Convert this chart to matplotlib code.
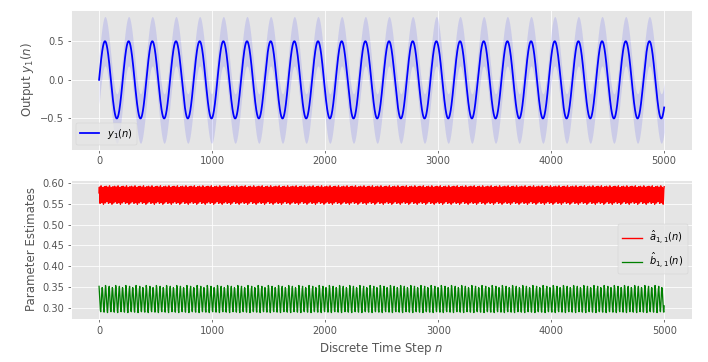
import numpy as np
import matplotlib
matplotlib.use("Agg")
import matplotlib.pyplot as plt

plt.style.use("ggplot")

# time axis
n_steps = 5000
n = np.arange(n_steps + 1)

# output y1(n): -> amplitude 0.5, ~24 cycles over 5000 steps
y1_amplitude = 0.5
y1_omega = 0.03          # rad / step  (period ~210 steps)
y1_band = 0.32           # half width of the shaded band

# parameter estimates: one repeating stretch of values,
# sampled every 3 steps
est_step = 3
a_hat_stretch = [0.576, 0.590, 0.568, 0.551, 0.563, 0.586,
                 0.593, 0.572, 0.553, 0.558, 0.581, 0.589,
                 0.566, 0.549, 0.561, 0.584, 0.591, 0.570,
                 0.552, 0.556, 0.579, 0.592, 0.574, 0.555, 0.560]
b_hat_stretch = [0.352, 0.338, 0.322, 0.306, 0.294, 0.291, 0.303, 0.321, 0.337, 0.349,
                 0.347, 0.333, 0.317, 0.302, 0.292, 0.290, 0.305, 0.323, 0.339, 0.354,
                 0.350, 0.335, 0.319, 0.304, 0.293, 0.289, 0.301, 0.318, 0.334, 0.346]

y1 = y1_amplitude * np.sin(y1_omega * n)

n_est = np.arange(0, n_steps + 1, est_step)
a_hat = np.resize(a_hat_stretch, len(n_est))
b_hat = np.resize(b_hat_stretch, len(n_est))

fig, (ax1, ax2) = plt.subplots(2, 1, figsize=(10, 362 / 70.8), dpi=70.8)
fig.subplots_adjust(left=0.100, right=0.978, top=0.972, bottom=0.119, hspace=0.215)

ax1.plot(n, y1, color="blue", lw=1.8, label=r"$y_1(n)$")
ax1.fill_between(n, y1 - y1_band, y1 + y1_band, color="blue", alpha=0.11, lw=0)
ax1.set_ylabel(r"Output $y_1(n)$")
ax1.set_yticks([-0.5, 0.0, 0.5])
ax1.set_xticks(np.arange(0, 5001, 1000))
ax1.legend(loc="lower left")

ax2.plot(n_est, a_hat, color="red", lw=1.4, label=r"$\hat{a}_{1,1}(n)$")
ax2.plot(n_est, b_hat, color="green", lw=1.3, label=r"$\hat{b}_{1,1}(n)$")
ax2.set_ylabel("Parameter Estimates")
ax2.set_xlabel(r"Discrete Time Step $n$")
ax2.set_xticks(np.arange(0, 5001, 1000))
ax2.legend(loc="center right")

fig.savefig("out.png", dpi=70.8)
